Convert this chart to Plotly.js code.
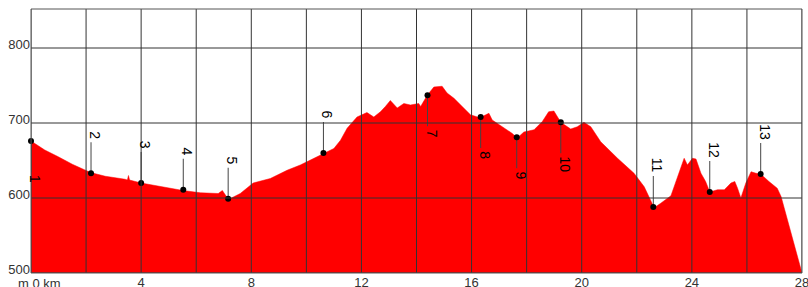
<!DOCTYPE html>
<html>
<head>
<meta charset="utf-8">
<script src="https://cdn.plot.ly/plotly-3.0.1.min.js"></script>
<style>html,body{margin:0;padding:0;background:#fff;}#chart{width:808px;height:287px;}</style>
</head>
<body>
<div id="chart"></div>
<script>
// Elevation profile (distance in km, elevation in m)
var profileKm = [0, 0.5, 0.99, 1.5, 2.16, 2.7, 3.42, 3.5, 3.54, 3.58, 4.0, 4.69, 5.52, 6.15, 6.8, 6.95, 7.05, 7.17, 7.6, 8.07, 8.69, 9.3, 9.78, 10.0, 10.63, 11.0, 11.24, 11.48, 11.84, 12.2, 12.45, 12.69, 12.87, 13.05, 13.3, 13.54, 13.78, 14.08, 14.15, 14.39, 14.63, 14.93, 15.11, 15.36, 15.66, 15.96, 16.3, 16.63, 16.75, 17.17, 17.48, 17.66, 17.9, 18.27, 18.57, 18.8, 18.99, 19.24, 19.6, 19.84, 20.08, 20.33, 20.69, 21.3, 21.9, 22.27, 22.5, 22.63, 22.87, 23.1, 23.24, 23.48, 23.72, 23.84, 24.02, 24.15, 24.33, 24.5, 24.65, 24.93, 25.18, 25.42, 25.56, 25.66, 25.78, 25.96, 26.15, 26.33, 26.5, 26.8, 27.1, 27.24, 27.6, 28.0];
var profileElev = [676, 664, 655, 645, 634, 629, 625, 624, 630, 624, 620, 615, 610, 607, 606, 610, 604, 598, 606, 620, 626, 637, 644, 648, 660, 666, 677, 693, 708, 714, 708, 715, 722, 730, 720, 726, 724, 726, 722, 737, 748, 749, 740, 733, 722, 711, 707, 713, 704, 693, 686, 680, 688, 691, 702, 715, 716, 701, 692, 695, 701, 695, 675, 653, 633, 615, 597, 587, 593, 600, 603, 628, 653, 644, 653, 652, 633, 622, 608, 611, 611, 620, 622, 613, 600, 620, 635, 633, 632, 622, 613, 602, 553, 500];

// Waypoints
var wpLabels = ["1","2","3","4","5","6","7","8","9","10","11","12","13"];
var wpKm = [0, 2.18, 4.0, 5.53, 7.16, 10.62, 14.4, 16.33, 17.64, 19.24, 22.6, 24.65, 26.5];
var wpElev = [676, 633, 620, 611, 599, 660, 737, 708, 681, 701, 588, 608, 632];
var wpSide = [-1, 1, 1, 1, 1, 1, -1, -1, -1, -1, 1, 1, 1]; // 1 = label above, -1 = below

// Axes
var xGridVals = [0, 2, 4, 6, 8, 10, 12, 14, 16, 18, 20, 22, 24, 26, 28];
var xTickText = ["", "", "4", "", "8", "", "12", "", "16", "", "20", "", "24", "", "28"];
var yTickVals = [500, 600, 700, 800];
var yTickText = ["500", "600", "700", "800"];
var cornerLabel = "m 0 km";

var yMin = 500, yMax = 852;
var plotH = 287 - 9 - 14;
var pxPerM = plotH / (yMax - yMin);
var leaderPx = 31;
var FONT = 'Liberation Sans, Arial, sans-serif';

var leadX = [], leadY = [];
for (var i = 0; i < wpKm.length; i++) {
  leadX.push(wpKm[i], wpKm[i], null);
  leadY.push(wpElev[i], wpElev[i] + wpSide[i] * leaderPx / pxPerM, null);
}

var traces = [
  {x: profileKm, y: profileElev, type: 'scatter', mode: 'lines', fill: 'tozeroy',
   fillcolor: '#ff0000', line: {color: '#ff0000', width: 0.5}, hoverinfo: 'skip'},
  {x: leadX, y: leadY, type: 'scatter', mode: 'lines', line: {color: '#444', width: 1}, hoverinfo: 'skip'},
  {x: wpKm, y: wpElev, type: 'scatter', mode: 'markers', marker: {color: '#000', size: 6}, cliponaxis: false, hoverinfo: 'skip'}
];

var shapes = [];
xGridVals.forEach(function (v) {
  shapes.push({type: 'line', xref: 'x', yref: 'paper', x0: v, x1: v, y0: 0, y1: 1,
    line: {color: '#333', width: 1}, layer: 'above'});
});
yTickVals.forEach(function (v) {
  shapes.push({type: 'line', xref: 'paper', yref: 'y', x0: 0, x1: 1, y0: v, y1: v,
    line: {color: '#333', width: 1}, layer: 'above'});
});
shapes.push({type: 'rect', xref: 'paper', yref: 'paper', x0: 0, x1: 1, y0: 0, y1: 1,
  line: {color: '#555', width: 1}, layer: 'above'});

var annotations = [];
for (var j = 0; j < wpKm.length; j++) {
  var off = 38 + (wpLabels[j].length - 1) * 4;
  annotations.push({x: wpKm[j], y: wpElev[j], xref: 'x', yref: 'y', text: wpLabels[j],
    showarrow: false, textangle: 90, xshift: 4, yshift: wpSide[j] * off,
    font: {family: FONT, size: 14, color: '#000'}});
}
annotations.push({xref: 'paper', yref: 'paper', x: 0, y: 0, xanchor: 'left', yanchor: 'top',
  xshift: -15, yshift: -1, text: cornerLabel, showarrow: false,
  font: {family: FONT, size: 13, color: '#333'}});

var layout = {
  width: 808, height: 287,
  margin: {l: 31, r: 6, t: 9, b: 14, pad: 0},
  paper_bgcolor: '#fff', plot_bgcolor: '#fff',
  showlegend: false,
  xaxis: {range: [0, 28], tickmode: 'array', tickvals: xGridVals, ticktext: xTickText,
    showgrid: false, zeroline: false, showline: false, ticks: '', ticklabeloverflow: 'allow',
    tickfont: {family: FONT, size: 13, color: '#333'}},
  yaxis: {range: [yMin, yMax], tickmode: 'array', tickvals: yTickVals, ticktext: yTickText,
    showgrid: false, zeroline: false, showline: false, ticks: '', ticklabelshift: -4,
    tickfont: {family: FONT, size: 13, color: '#333'}},
  shapes: shapes,
  annotations: annotations
};

Plotly.newPlot('chart', traces, layout, {staticPlot: true, displayModeBar: false});
</script>
</body>
</html>
